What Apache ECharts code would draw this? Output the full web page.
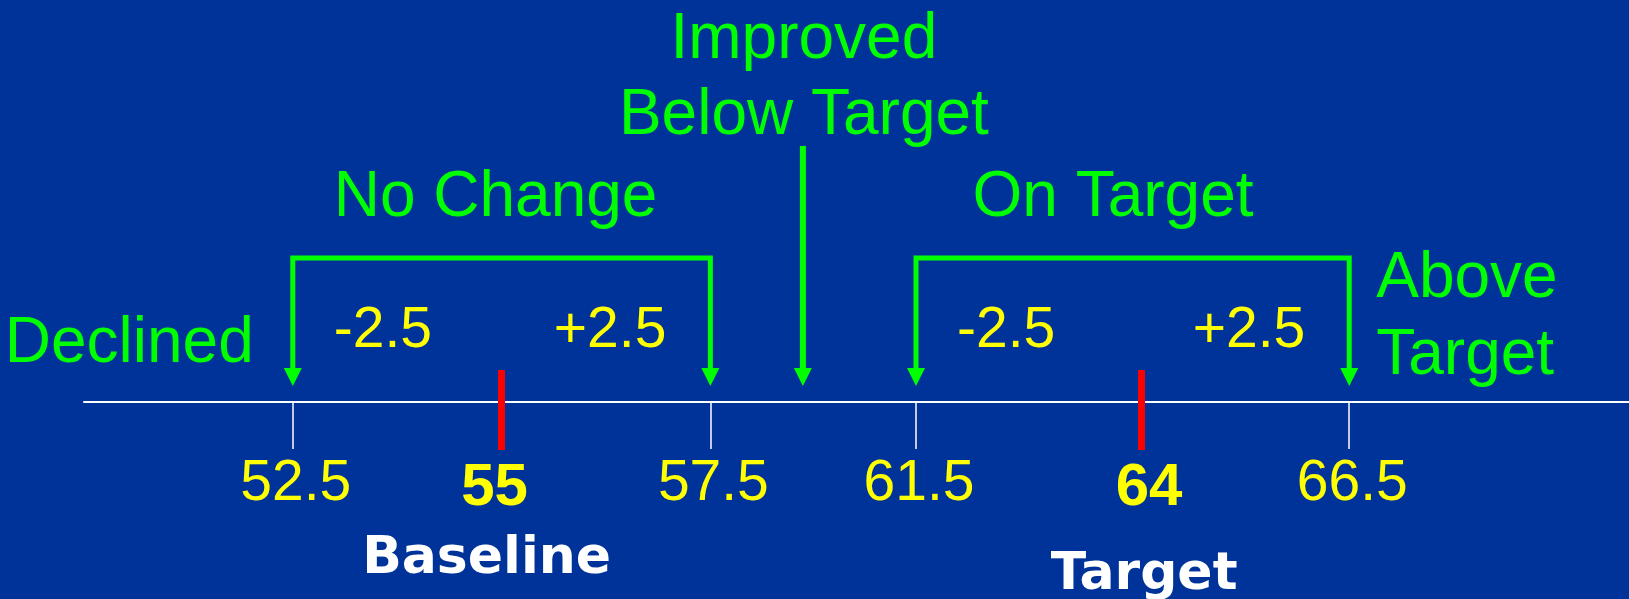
<!DOCTYPE html>
<html>
<head>
<meta charset="utf-8">
<title>Baseline / Target</title>
<script src="https://cdn.jsdelivr.net/npm/echarts@6/dist/echarts.min.js"></script>
<style>html,body{margin:0;background:#003399;}</style>
</head>
<body>
<div id="main" style="width:1629px;height:599px;"></div>
<script type="text/javascript">
var myChart = echarts.init(document.getElementById('main'));

// values shown in the diagram
var tickValues = [52.5, 57.5, 61.5, 66.5];
var centerValues = [55, 64];
var centerNames = ['Baseline', 'Target'];
var bandNames = ['No Change', 'On Target'];
var bands = [[52.5, 57.5], [61.5, 66.5]];
var spreadLabels = ['-2.5', '+2.5'];
var improvedValue = 59.3;
var improvedName = 'Improved\nBelow Target';
var declinedName = 'Declined';
var aboveName = 'Above\nTarget';

// the drawing is not to scale, so values go through a piecewise slot scale
var knots = [[52.5, 0], [55, 1], [57.5, 2], [61.5, 2.985], [64, 4.063], [66.5, 5.06]];
function pos(v) {
    for (var i = 1; i < knots.length; i++) {
        if (v <= knots[i][0] || i === knots.length - 1) {
            var a = knots[i - 1], b = knots[i];
            return a[1] + (v - a[0]) / (b[0] - a[0]) * (b[1] - a[1]);
        }
    }
}
// y axis counts pixel rows up from the number line (row 402)
function y(row) { return 402 - row; }

var green = { color: '#00ff00', fontFamily: 'Liberation Sans', fontSize: 64 };
var yellow = { color: '#ffff00', fontFamily: 'Liberation Sans', fontSize: 57 };
var yellowBold = { color: '#ffff00', fontFamily: 'Liberation Sans', fontSize: 60, fontWeight: 'bold' };
var white = { color: '#ffffff', fontFamily: 'DejaVu Sans', fontSize: 52, fontWeight: 'bold' };

function txt(x, row, text, style, dx, align, lineHeight) {
    var label = Object.assign({
        show: true,
        position: 'inside',
        formatter: text,
        offset: [dx || 0, 5],
        align: align || 'center',
        verticalAlign: 'middle',
        opacity: 1
    }, style);
    if (lineHeight) label.lineHeight = lineHeight;
    return { value: [x, y(row)], label: label };
}

var texts = [];
bands.forEach(function (b, i) {
    texts.push(txt(pos(centerValues[i]), 193.5, bandNames[i], green, [-6, -28][i]));
    texts.push(txt(pos(b[0]), 326, spreadLabels[0], yellow, 41, 'left'));
    texts.push(txt(pos(b[1]), 326, spreadLabels[1], yellow, -44, 'right'));
});
texts.push(txt(pos(improvedValue), 73.3, improvedName, green, 1, 'center', 76.5));
texts.push(txt(pos(bands[0][0]), 339, declinedName, green, -39, 'right'));
texts.push(txt(pos(bands[1][1]), 313, aboveName, green, 27, 'left', 76.5));
tickValues.forEach(function (v) {
    texts.push(txt(pos(v), 479.5, String(v), yellow, 3));
});
centerValues.forEach(function (v, i) {
    texts.push(txt(pos(v), 483, String(v), yellowBold, [-7, 8][i]));
    texts.push(txt(pos(v), [554.5, 570][i], centerNames[i], white, [-15, 3][i]));
});

var greenLines = bands.map(function (b) {
    return {
        coords: [[pos(b[0]), y(372)], [pos(b[0]), y(258)], [pos(b[1]), y(258)], [pos(b[1]), y(372)]]
    };
});
greenLines.push({
    coords: [[pos(improvedValue), y(146)], [pos(improvedValue), y(372)]],
    lineStyle: { width: 6 }
});

var arrowHeads = [];
bands.forEach(function (b) {
    arrowHeads.push([pos(b[0]), y(377)], [pos(b[1]), y(377)]);
});
arrowHeads.push([pos(improvedValue), y(377)]);

var redBars = centerValues.map(function (v) {
    return { coords: [[pos(v), y(370)], [pos(v), y(450)]] };
});

option = {
    backgroundColor: '#003399',
    animation: false,
    grid: { left: 84, right: 0, top: 0, bottom: 0 },
    xAxis: {
        type: 'value',
        min: -1,
        max: 6.4,
        splitLine: { show: false },
        axisLabel: { show: false },
        axisLine: { show: true, onZero: true, lineStyle: { color: '#ffffff', width: 2 } },
        axisTick: {
            show: true,
            customValues: tickValues.map(pos),
            length: 47,
            lineStyle: { color: '#ffffff', width: 1.5 }
        }
    },
    yAxis: {
        type: 'value',
        min: y(599),
        max: y(0),
        show: false
    },
    series: [
        {
            type: 'lines',
            coordinateSystem: 'cartesian2d',
            polyline: true,
            silent: true,
            lineStyle: { color: '#00ff00', width: 5, opacity: 1, join: 'miter', cap: 'butt' },
            data: greenLines
        },
        {
            type: 'scatter',
            silent: true,
            symbol: 'triangle',
            symbolRotate: 180,
            symbolSize: [18, 18],
            itemStyle: { color: '#00ff00', opacity: 1 },
            data: arrowHeads
        },
        {
            type: 'lines',
            coordinateSystem: 'cartesian2d',
            silent: true,
            lineStyle: { color: '#ff0000', width: 7, opacity: 1, cap: 'butt' },
            data: redBars
        },
        {
            type: 'scatter',
            silent: true,
            symbolSize: 1,
            itemStyle: { color: 'rgba(0,0,0,0)', opacity: 1 },
            data: texts
        }
    ]
};

myChart.setOption(option);
</script>
</body>
</html>
